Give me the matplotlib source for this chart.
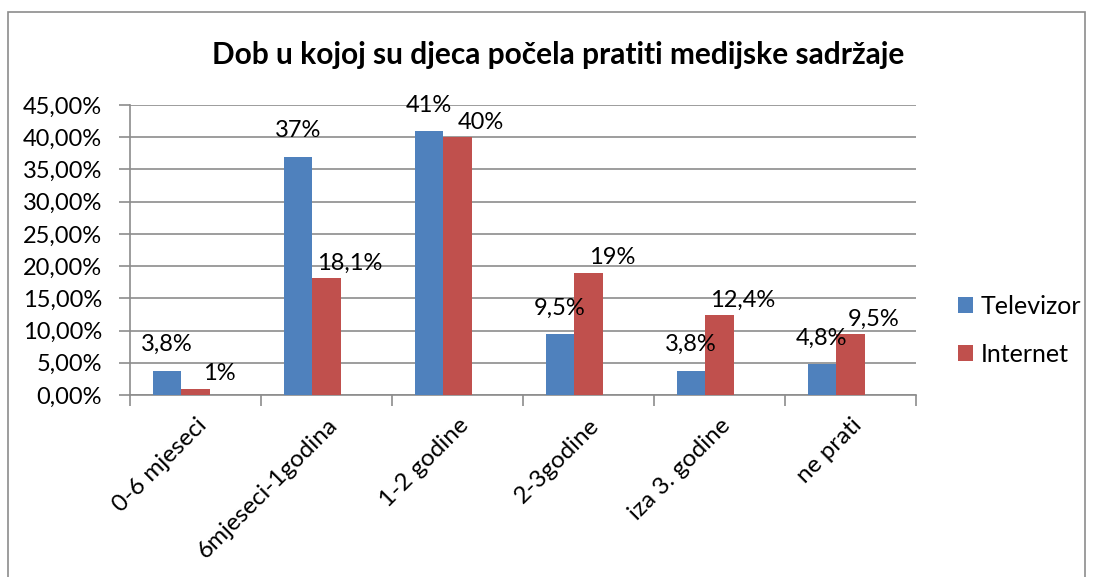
import numpy as np
import matplotlib
matplotlib.use('Agg')
import matplotlib.pyplot as plt
from matplotlib.patches import Rectangle

# data
categories = ['0-6 mjeseci', '6mjeseci-1godina', '1-2 godine', '2-3godine', 'iza 3. godine', 'ne prati']
televizor = [3.8, 37, 41, 9.5, 3.8, 4.8]
internet = [1, 18.1, 40, 19, 12.4, 9.5]
tv_labels = ['3,8%', '37%', '41%', '9,5%', '3,8%', '4,8%']
net_labels = ['1%', '18,1%', '40%', '19%', '12,4%', '9,5%']
yticks = np.arange(0, 50, 5)

plt.rcParams['font.family'] = ['Lato', 'DejaVu Sans']

fig = plt.figure(figsize=(10.94, 5.77), dpi=100)
ax = fig.add_axes([130/1094, 1-395/577, 786/1094, 290/577])

x = np.arange(len(categories))
w = 0.215
blue = '#4F81BD'
red = '#C0504D'
b1 = ax.bar(x - 0.22 + 0.5, televizor, w, color=blue, label='Televizor', zorder=3)
b2 = ax.bar(x + 0.0 + 0.5, internet, w, color=red, label='Internet', zorder=3)

for r, t in zip(b1, tv_labels):
    ax.annotate(t, (r.get_x() + r.get_width()/2, r.get_height()), xytext=(0, 11),
                textcoords='offset points', ha='center', va='bottom', fontsize=17)
for r, t in zip(b2, net_labels):
    ax.annotate(t, (r.get_x() + r.get_width()/2, r.get_height()), xytext=(17, 3),
                textcoords='offset points', ha='center', va='bottom', fontsize=17)

ax.set_xlim(0, len(categories))
ax.set_ylim(0, 45)
ax.set_yticks(yticks)
ax.set_yticklabels([f'{v:.2f}%'.replace('.', ',') for v in yticks], fontsize=17)
ax.yaxis.grid(True, color='#8c8c8c', linewidth=1.2, zorder=0)

ax.set_xticks(np.arange(len(categories) + 1))
ax.set_xticklabels([])
ax.set_xticks(x + 0.5, minor=True)
ax.set_xticklabels(categories, minor=True, rotation=45, ha='right',
                   rotation_mode='anchor', fontsize=17.5)
ax.tick_params(axis='x', which='minor', length=0, pad=14)
ax.tick_params(axis='x', which='major', length=8, color='#8c8c8c', width=1.2)
ax.tick_params(axis='y', length=8, color='#8c8c8c', width=1.2, pad=12)

for s in ['top', 'right']:
    ax.spines[s].set_visible(False)
for s in ['left', 'bottom']:
    ax.spines[s].set_color('#8c8c8c')
    ax.spines[s].set_linewidth(1.2)

fig.text(558/1094, 1-55/577, 'Dob u kojoj su djeca počela pratiti medijske sadržaje',
         ha='center', va='center', fontsize=21.5, fontweight='bold')

leg = fig.legend(handles=[b1, b2], loc='center left', bbox_to_anchor=(958/1094, 1-330/577),
                 frameon=False, fontsize=18, handlelength=0.6, handleheight=0.6,
                 handletextpad=0.3, labelspacing=1.0, borderpad=0, borderaxespad=0)

fig.patches.append(Rectangle((8/1094, -0.05), 1077/1094, 1.05 - 12/577, transform=fig.transFigure,
                             fill=False, edgecolor='#8c8c8c', linewidth=1.2))

fig.savefig('out.png', dpi=100)
